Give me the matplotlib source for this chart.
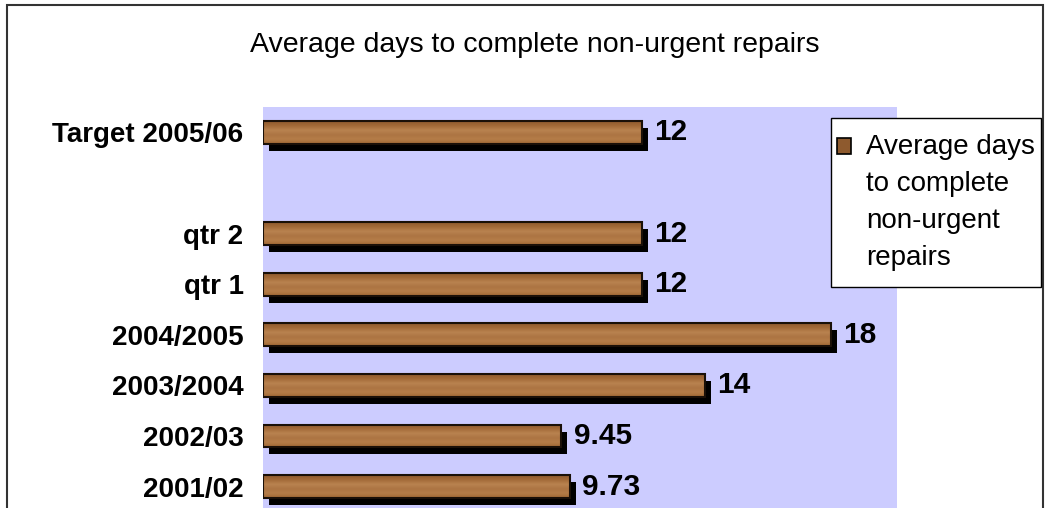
"""Average days to complete non-urgent repairs - horizontal bar chart."""

import numpy as np
import matplotlib
matplotlib.use("Agg")
import matplotlib.pyplot as plt
from matplotlib.colors import LinearSegmentedColormap
from matplotlib.patches import Rectangle, Patch
from matplotlib.path import Path
from matplotlib.transforms import ScaledTranslation
from matplotlib.legend_handler import HandlerPatch

# data, top to bottom as shown
categories = ["Target 2005/06", "", "qtr 2", "qtr 1",
              "2004/2005", "2003/2004", "2002/03", "2001/02"]
values = [12, np.nan, 12, 12, 18, 14, 9.45, 9.73]
series_name = "Average days\nto complete\nnon-urgent\nrepairs"
title = "Average days to complete non-urgent repairs"

W, H, DPI = 1047, 508, 100
LEG_LS = 1.55
plt.rcParams["font.family"] = ["Liberation Sans", "DejaVu Sans"]

fig = plt.figure(figsize=(W / DPI, H / DPI), dpi=DPI)
fig.patch.set_facecolor("white")

# outer chart border (bottom runs off the image)
fig.add_artist(Rectangle((7 / W, -0.05), 1036 / W, 1 - 5 / H + 0.05,
                         transform=fig.transFigure, fill=False,
                         edgecolor="#333333", linewidth=1.5))

ax = fig.add_axes([263 / W, -4 / H, 634 / W, 405 / H])
ax.set_facecolor("#CCCCFF")
for s in ax.spines.values():
    s.set_visible(False)

ypos = np.arange(len(categories))
mask = ~np.isnan(values)
yv = ypos[mask]
vv = np.array(values)[mask]
bar_h = 0.45

# drop shadow: same bars shifted a few pixels right and down
shadow = ScaledTranslation(6 / DPI, -7 / DPI, fig.dpi_scale_trans)
ax.barh(yv, vv, height=bar_h, color="black", zorder=1,
        transform=ax.transData + shadow)

bars = ax.barh(yv, vv, height=bar_h, facecolor="none", edgecolor="#1a1008",
               linewidth=1.5, zorder=3)

# wood-like shading inside each bar
wood = LinearSegmentedColormap.from_list(
    "wood", ["#8E5A2E", "#A36A38", "#B98350", "#AC7443", "#B57D48", "#A06835"])
grad = np.linspace(0, 1, 64).reshape(-1, 1)
for b in bars:
    x0, y0 = b.get_x(), b.get_y()
    im = ax.imshow(grad, cmap=wood, aspect="auto", zorder=2.5,
                   extent=(x0, x0 + b.get_width(), y0 + b.get_height(), y0),
                   interpolation="bicubic")
    im.set_clip_path(b)

ax.bar_label(bars, labels=[f"{v:g}" for v in vv], padding=9,
             fontsize=21.5, fontweight="bold", zorder=5)

ax.set_xlim(0, 20.1)
ax.set_ylim(len(categories) - 0.5, -0.5)
ax.set_yticks(ypos)
ax.set_yticklabels(categories, fontsize=20, fontweight="bold")
ax.tick_params(axis="y", length=0, pad=14)
ax.set_xticks([])

fig.text((248 + 822) / 2 / W, 1 - 45 / H, title, ha="center", va="center",
         fontsize=20.5)


class TopPatch(HandlerPatch):
    """Legend square aligned with the first line of a multi-line label."""

    def create_artists(self, legend, orig_handle, xdescent, ydescent,
                       width, height, fontsize, trans):
        shift = 1.5 * 0.88 * LEG_LS * fontsize
        p = Rectangle((-xdescent, -ydescent + shift), width, height)
        self.update_prop(p, orig_handle, legend)
        p.set_transform(trans)
        return [p]


def tall_box(x0, y0, width, height, mutation_size):
    # Excel legend frame: tight at the sides, roomier top and bottom
    e = 10
    return Path([(x0, y0 - e), (x0 + width, y0 - e),
                 (x0 + width, y0 + height + e), (x0, y0 + height + e),
                 (x0, y0 - e)], closed=True)


leg = fig.legend(handles=[Patch(facecolor="#8E5A2E", edgecolor="black",
                                linewidth=1.2, label=series_name)],
                 handler_map={Patch: TopPatch()},
                 loc="upper left", bbox_to_anchor=(831 / W, 1 - 128 / H),
                 bbox_transform=fig.transFigure, fontsize=20, frameon=True,
                 fancybox=False, borderaxespad=0, handlelength=0.5,
                 handleheight=0.5, handletextpad=0.55, borderpad=0.22)
for t in leg.get_texts():
    t.set_linespacing(LEG_LS)
leg.legendPatch.set_boxstyle(tall_box)
leg.get_frame().set_edgecolor("black")
leg.get_frame().set_linewidth(1.0)
leg.get_frame().set_alpha(1)
leg.set_zorder(10)

fig.savefig("out.png", dpi=DPI)
